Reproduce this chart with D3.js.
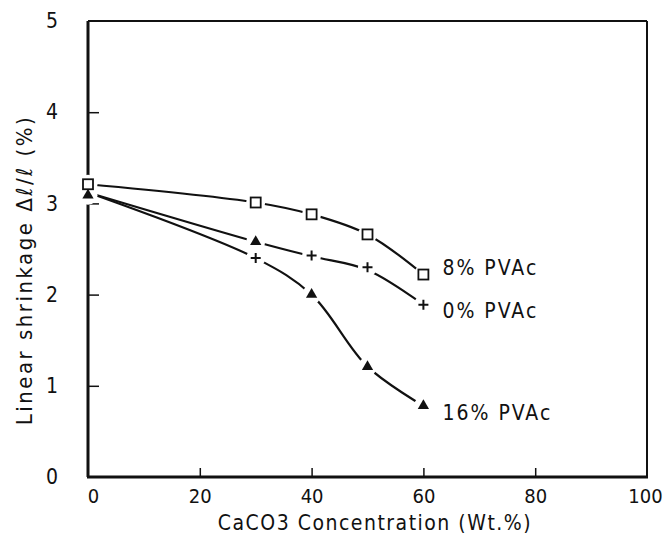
<!DOCTYPE html>
<html><head><meta charset="utf-8">
<script src="https://cdn.jsdelivr.net/npm/d3@7"></script>
<style>
body{margin:0;background:#fff;}
text{font-family:"DejaVu Sans Condensed","DejaVu Sans",sans-serif;fill:#111;}
</style></head>
<body><svg id="c" width="664" height="536"></svg>
<script>
// ---- data ----
const xTicks = [0,20,40,60,80,100];
const yTicks = [0,1,2,3,4,5];
const seriesNames = ["8% PVAc","0% PVAc","16% PVAc"];
// marker positions
const sqX = [0,30,40,50,60];
const sqY = [3.21,3.01,2.88,2.66,2.22];
const plusX = [0,30,40,50,60];
const plusY = [3.12,2.40,2.43,2.30,1.89];
const triX = [0,30,40,50,60];
const triY = [3.09,2.58,2.00,1.21,0.78];
// fitted curves as drawn
const curve8X = [0,30,40,50,60];
const curve8Y = [3.21,3.01,2.88,2.66,2.22];
const curve0X = [0,30,40,50,60];
const curve0Y = [3.12,2.58,2.42,2.27,1.89];
const curve16X = [0,30,40,50,60];
const curve16Y = [3.12,2.40,2.00,1.21,0.78];

const svg = d3.select("#c");
const x = d3.scaleLinear().domain([0,100]).range([88,647]);
const y = d3.scaleLinear().domain([0,5]).range([477,21]);

const zip = (a,b)=>a.map((v,i)=>[v,b[i]]);
const line = d3.line().x(d=>x(d[0])).y(d=>y(d[1])).curve(d3.curveCatmullRom.alpha(0.5));

// frame
svg.append("line").attr("x1",x(0)).attr("x2",x(100)).attr("y1",y(5)).attr("y2",y(5)).attr("stroke","#111").attr("stroke-width",2);
svg.append("line").attr("x1",x(100)).attr("x2",x(100)).attr("y1",y(5)).attr("y2",y(0)).attr("stroke","#111").attr("stroke-width",2);
svg.append("line").attr("x1",x(0)-1).attr("x2",x(100)+1).attr("y1",y(0)).attr("y2",y(0)).attr("stroke","#111").attr("stroke-width",3);
svg.append("line").attr("x1",x(0)).attr("x2",x(0)).attr("y1",y(5)).attr("y2",y(0)).attr("stroke","#111").attr("stroke-width",3);

// axes
const xAxis = d3.axisBottom(x).tickValues(xTicks).tickSize(-9).tickPadding(12).tickFormat(d3.format("d"));
const gx = svg.append("g").attr("transform",`translate(0,${y(0)})`).call(xAxis);
gx.select(".domain").remove();
gx.selectAll(".tick line").attr("stroke","#111").attr("stroke-width",1.5);
gx.selectAll(".tick").filter(d=>d===0||d===100).select("line").remove();
gx.selectAll("text").attr("font-size",20).style("font-family","DejaVu Sans Condensed").attr("fill","#111");
gx.selectAll(".tick").filter(d=>d===0).select("text").attr("dx",5);
gx.selectAll(".tick").filter(d=>d===100).select("text").attr("dx",-2);

const yAxis = d3.axisLeft(y).tickValues(yTicks).tickSize(-11).tickPadding(30).tickFormat(d3.format("d"));
const gy = svg.append("g").attr("transform",`translate(${x(0)},0)`).call(yAxis);
gy.select(".domain").remove();
gy.selectAll(".tick line").attr("stroke","#111").attr("stroke-width",1.5);
gy.selectAll(".tick").filter(d=>d===0||d===5).select("line").remove();
gy.selectAll("text").attr("font-size",21).style("font-family","DejaVu Sans Condensed").attr("fill","#111");

// curves
[[curve8X,curve8Y],[curve0X,curve0Y],[curve16X,curve16Y]].forEach(([cx,cy])=>{
  svg.append("path").attr("d",line(zip(cx,cy))).attr("fill","none").attr("stroke","#111").attr("stroke-width",2.2);
});

// halos to break lines at markers
const allPts = zip(sqX,sqY).concat(zip(plusX,plusY)).concat(zip(triX,triY));
svg.append("g").selectAll("circle").data(allPts).join("circle")
  .attr("cx",d=>x(d[0])).attr("cy",d=>y(d[1])).attr("r",9.5).attr("fill","#fff");

// markers
const mk = svg.append("g");
mk.selectAll(".tri").data(zip(triX,triY)).join("path")
  .attr("d",d3.symbol().type(d3.symbolTriangle).size(55))
  .attr("transform",d=>`translate(${x(d[0])},${y(d[1])})`).attr("fill","#111");
mk.selectAll(".plus").data(zip(plusX,plusY).slice(1)).join("path")
  .attr("d","M-5,0H5M0,-5V5")
  .attr("transform",d=>`translate(${x(d[0])},${y(d[1])})`).attr("stroke","#111").attr("stroke-width",2);
mk.selectAll(".sq").data(zip(sqX,sqY)).join("rect")
  .attr("x",d=>x(d[0])-5).attr("y",d=>y(d[1])-5).attr("width",10).attr("height",10)
  .attr("fill","#fff").attr("stroke","#111").attr("stroke-width",1.8);

// series labels
const labPos = [[63.4,2.22],[63.4,1.74],[63.4,0.625]];
seriesNames.forEach((n,i)=>{
  svg.append("text").attr("x",x(labPos[i][0])).attr("y",y(labPos[i][1]))
    .attr("font-size",21).attr("letter-spacing",2).text(n);
});

// axis titles
svg.append("text").attr("x",375).attr("y",530).attr("text-anchor","middle")
  .attr("font-size",21).attr("letter-spacing",1.5).text("CaCO3 Concentration (Wt.%)");
svg.append("text").attr("transform","translate(32,270) rotate(-90)").attr("text-anchor","middle")
  .attr("font-size",22).attr("letter-spacing",2.5).text("Linear shrinkage  Δℓ/ℓ (%)");
</script></body></html>
